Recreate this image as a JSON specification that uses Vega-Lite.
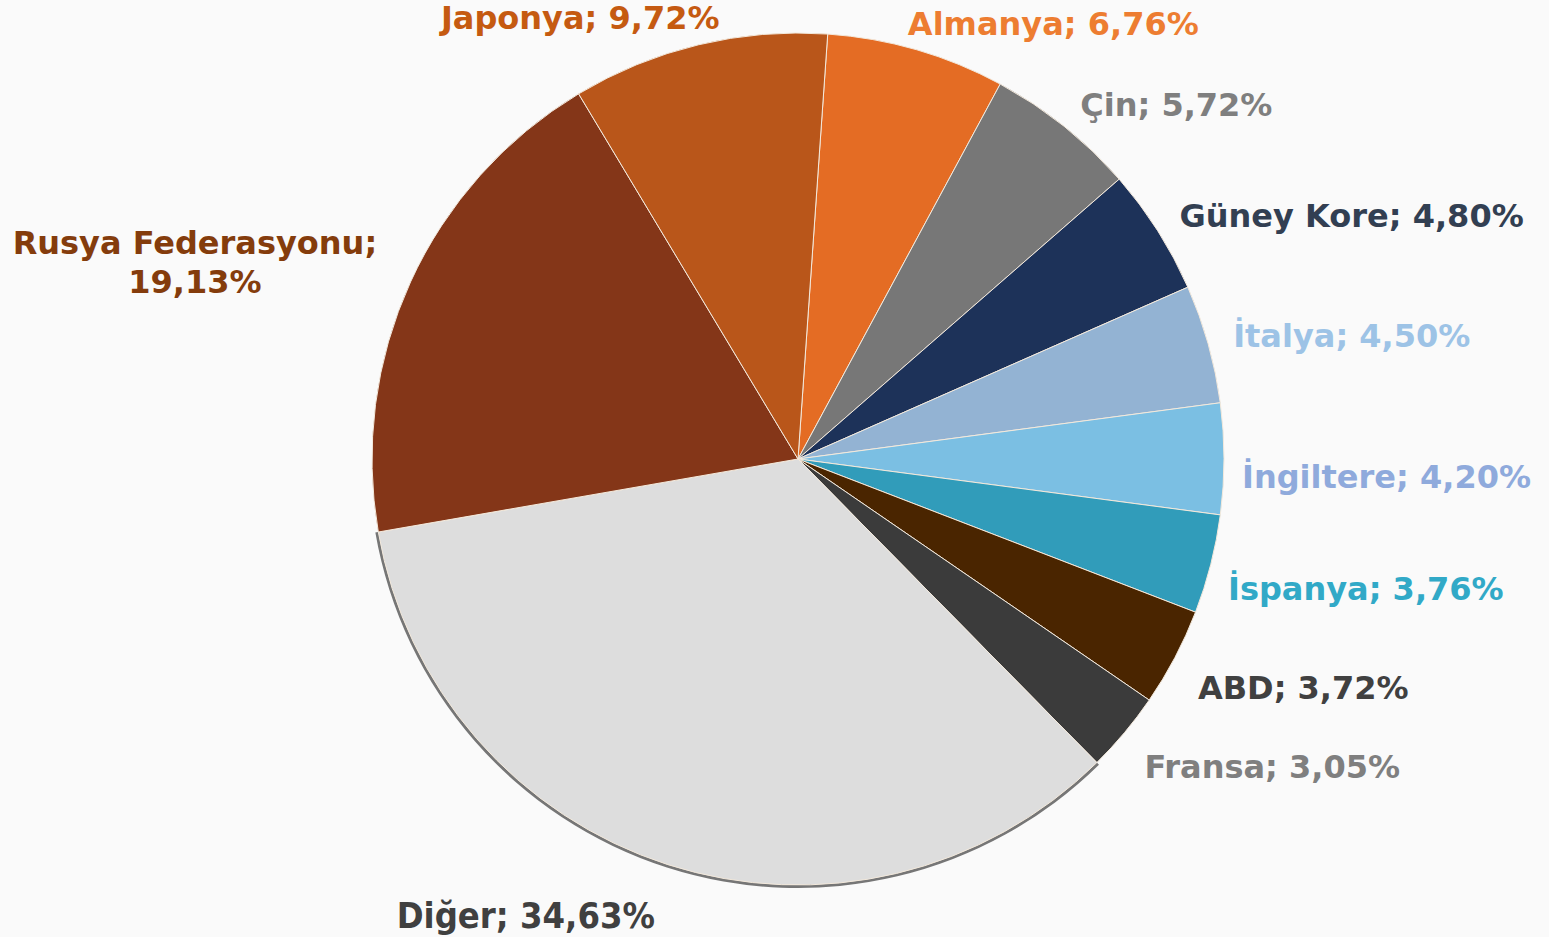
{
  "$schema": "https://vega.github.io/schema/vega-lite/v6.json",
  "autosize": "none",
  "width": 1502,
  "height": 918,
  "padding": {"left": 47, "right": 0, "top": 0, "bottom": 19},
  "background": "#FAFAFA",
  "config": {"view": {"stroke": null}},
  "data": {
    "values": [
      {"n": 1, "country": "Almanya", "share": 6.76, "label": "Almanya; 6,76%"},
      {"n": 2, "country": "Çin", "share": 5.72, "label": "Çin; 5,72%"},
      {"n": 3, "country": "Güney Kore", "share": 4.80, "label": "Güney Kore; 4,80%"},
      {"n": 4, "country": "İtalya", "share": 4.50, "label": "İtalya; 4,50%"},
      {"n": 5, "country": "İngiltere", "share": 4.20, "label": "İngiltere; 4,20%"},
      {"n": 6, "country": "İspanya", "share": 3.76, "label": "İspanya; 3,76%"},
      {"n": 7, "country": "ABD", "share": 3.72, "label": "ABD; 3,72%"},
      {"n": 8, "country": "Fransa", "share": 3.05, "label": "Fransa; 3,05%"},
      {"n": 9, "country": "Diğer", "share": 34.63, "label": "Diğer; 34,63%"},
      {"n": 10, "country": "Rusya Federasyonu", "share": 19.13, "label": "Rusya Federasyonu;\n19,13%"},
      {"n": 11, "country": "Japonya", "share": 9.72, "label": "Japonya; 9,72%"}
    ]
  },
  "encoding": {
    "theta": {"field": "share", "type": "quantitative", "stack": true, "scale": {"range": [0.0698, 6.353]}},
    "order": {"field": "n", "type": "quantitative"}
  },
  "layer": [
    {
      "mark": {"type": "arc", "innerRadius": 425, "outerRadius": 429, "color": "#5E5E5E"},
      "encoding": {
        "opacity": {"condition": {"test": "datum.country == 'Diğer'", "value": 0.85}, "value": 0}
      }
    },
    {
      "mark": {"type": "arc", "outerRadius": 426, "stroke": "#F3E9DC", "strokeWidth": 1},
      "encoding": {
        "color": {
          "field": "country",
          "type": "nominal",
          "legend": null,
          "scale": {
            "domain": ["Almanya", "Çin", "Güney Kore", "İtalya", "İngiltere", "İspanya", "ABD", "Fransa", "Diğer", "Rusya Federasyonu", "Japonya"],
            "range": ["#E46C24", "#777777", "#1D3259", "#93B3D3", "#7BBFE3", "#319CBA", "#4A2500", "#3B3B3B", "#DDDDDD", "#843618", "#B9561A"]
          }
        }
      }
    },
    {
      "mark": {
        "type": "text",
        "radius": 452,
        "fontWeight": "bold",
        "lineBreak": "\n",
        "lineHeight": 39,
        "baseline": "middle",
        "font": {"expr": "datum.country == 'Diğer' ? 'DejaVu Sans Condensed' : 'DejaVu Sans'"},
        "fontSize": {"expr": "datum.country == 'Diğer' ? 36 : 32"},
        "align": {"expr": "(4 + 1.8*(datum.share_start+datum.share_end)) < 180 ? 'left' : (datum.country == 'Rusya Federasyonu' ? 'center' : 'right')"},
        "dx": {"expr": "datum.country == 'Rusya Federasyonu' ? -192 : (datum.country == 'Diğer' ? -5 : ((4 + 1.8*(datum.share_start+datum.share_end)) > 330 ? 27 : ((4 + 1.8*(datum.share_start+datum.share_end)) < 25 ? -16 : (((4 + 1.8*(datum.share_start+datum.share_end)) > 85 && (4 + 1.8*(datum.share_start+datum.share_end)) < 110) ? -8 : 0))))"},
        "dy": {"expr": "datum.country == 'Rusya Federasyonu' ? -27 : (datum.country == 'Diğer' ? 28 : (((4 + 1.8*(datum.share_start+datum.share_end)) > 85 && (4 + 1.8*(datum.share_start+datum.share_end)) < 270) ? 19 : 0))"}
      },
      "encoding": {
        "text": {"field": "label"},
        "color": {
          "field": "country",
          "type": "nominal",
          "legend": null,
          "scale": {
            "domain": ["Almanya", "Çin", "Güney Kore", "İtalya", "İngiltere", "İspanya", "ABD", "Fransa", "Diğer", "Rusya Federasyonu", "Japonya"],
            "range": ["#ED7D31", "#7F7F7F", "#323F52", "#9DC3E6", "#8FAADC", "#31A9C7", "#404040", "#7F7F7F", "#404040", "#843C0C", "#C55A11"]
          }
        }
      }
    }
  ],
  "resolve": {"scale": {"color": "independent"}}
}
